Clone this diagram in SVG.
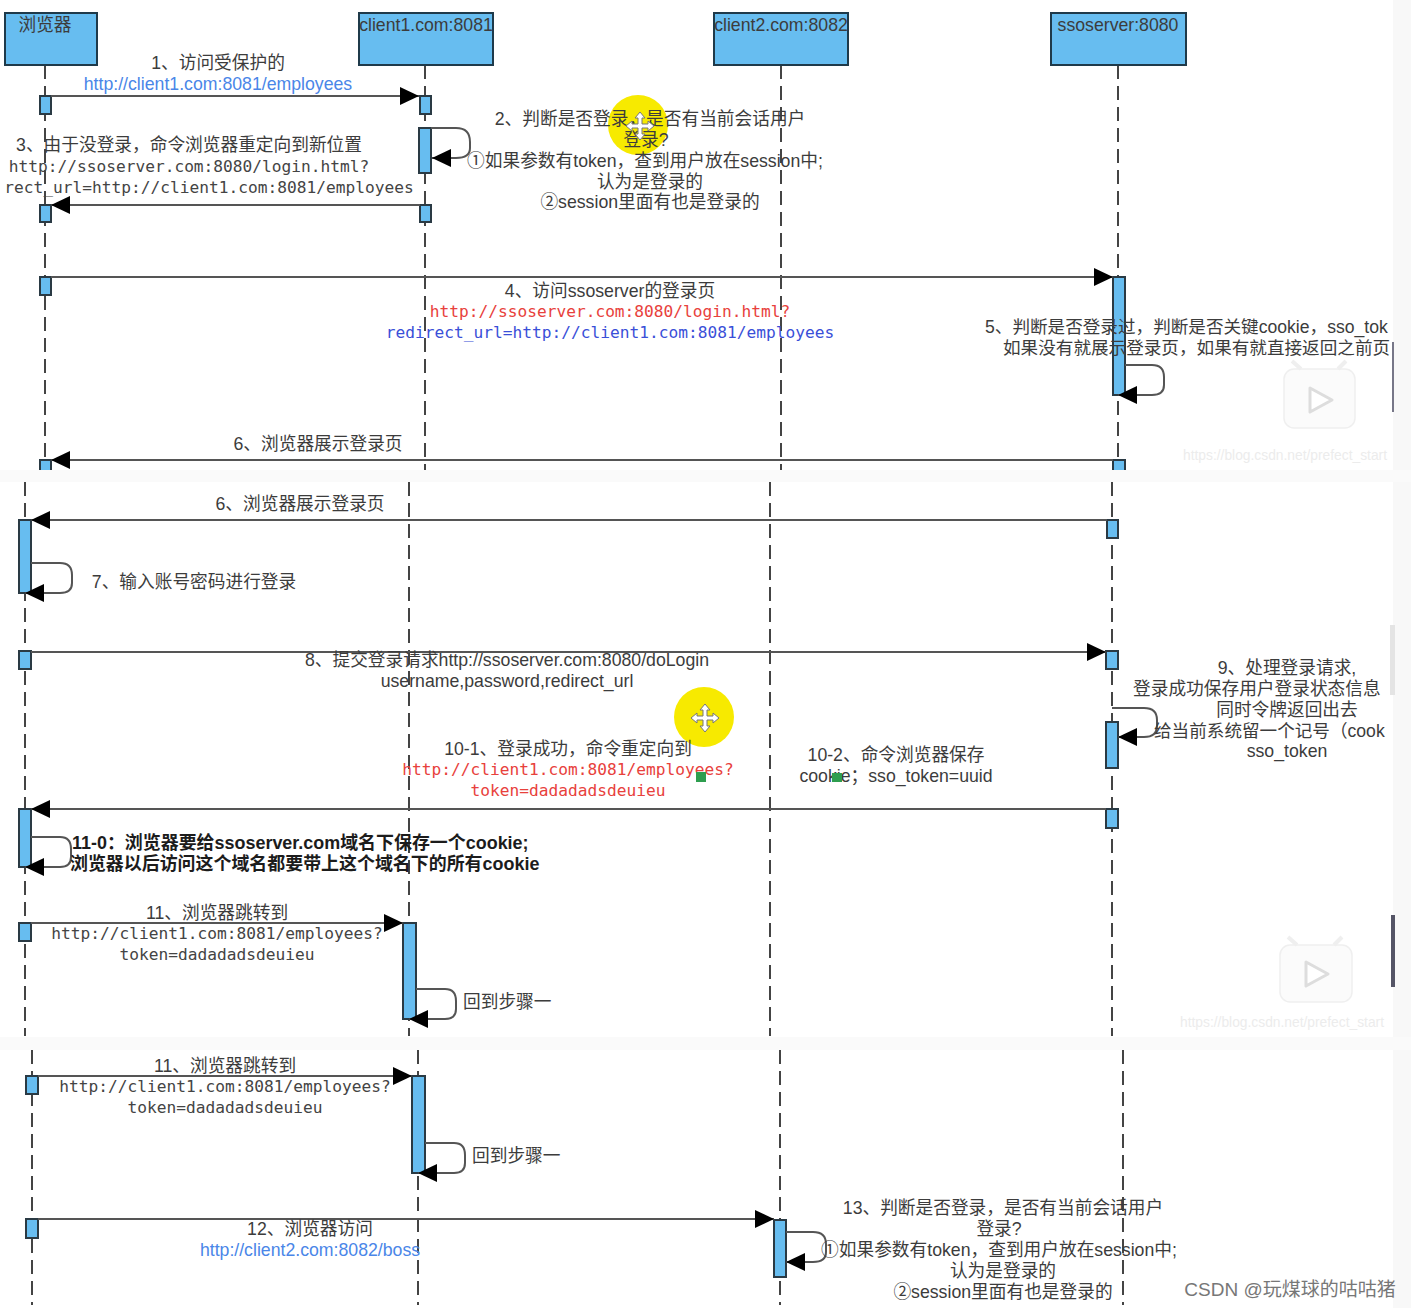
<svg xmlns="http://www.w3.org/2000/svg" width="1411" height="1308" viewBox="0 0 1411 1308">
<style>
text{font-family:"Liberation Sans","Noto Sans CJK SC",sans-serif;font-size:17.7px;fill:#3c3c3c;text-anchor:middle}
.m{font-family:"DejaVu Sans Mono","Liberation Mono","Noto Sans CJK SC",monospace;font-size:16.2px;fill:#444}
.l{fill:#4a86e8}
.r{fill:#e8413c}
.b{fill:#3a4fd8}
.k{font-weight:bold;font-size:17.95px;fill:#1c1c1c;text-anchor:start}
.s{text-anchor:start}
.n{font-size:17.6px}
.hd{fill:#67bdf0;stroke:#1f3a4a;stroke-width:2}
.ac{fill:#67bdf0;stroke:#2a3a44;stroke-width:2}
.ll{stroke:#444;stroke-width:2;stroke-dasharray:14 7;fill:none}
.msg{stroke:#555;stroke-width:2;fill:none;marker-end:url(#a)}
.wm{font-size:13.8px;fill:#ececec;text-anchor:start}
.cur{fill:#fff;stroke:#777;stroke-width:1}
</style>
<defs>
<marker id="a" markerUnits="userSpaceOnUse" markerWidth="20" markerHeight="20" refX="19" refY="10" orient="auto"><path d="M0,1 L19,10 L0,19 Z" fill="#000"/></marker>
<path id="mv" d="M0,-14 L5,-8 L2,-8 L2,-2 L8,-2 L8,-5 L14,0 L8,5 L8,2 L2,2 L2,8 L5,8 L0,14 L-5,8 L-2,8 L-2,2 L-8,2 L-8,5 L-14,0 L-8,-5 L-8,-2 L-2,-2 L-2,-8 L-5,-8 Z"/>
</defs>
<rect width="1411" height="1308" fill="#fff"/>
<rect x="1393" y="0" width="18" height="1308" fill="#f8f8f8"/>
<rect x="1392" y="342" width="2" height="70" fill="#778"/>
<rect x="1391" y="915" width="4" height="72" fill="#556"/>
<rect x="1390" y="625" width="5" height="70" fill="#e4e4e4"/>
<rect x="0" y="470" width="1411" height="12" fill="#fafafa"/>
<rect x="0" y="1037" width="1411" height="13" fill="#fafafa"/>

<g id="highlights">
<circle cx="638" cy="125" r="30" fill="#f7ea00"/>
<circle cx="704" cy="717" r="30" fill="#f7ea00"/>
</g>

<g id="lifelines">
<path class="ll" d="M45,65V470M425,65V470M781,65V470M1118,65V470"/>
<path class="ll" d="M25,482V1036M409,482V1036M770,482V1036M1112,482V1036"/>
<path class="ll" d="M32,1050V1305M418,1050V1305M780,1050V1305M1123,1050V1305"/>
</g>

<g id="browser"><rect class="hd" x="5" y="13" width="92" height="52"/><text x="45" y="31">浏览器</text></g>
<g id="client1"><rect class="hd" x="359" y="13" width="134" height="52"/><text x="426" y="31">client1.com:8081</text></g>
<g id="client2"><rect class="hd" x="714" y="13" width="134" height="52"/><text x="781" y="31">client2.com:8082</text></g>
<g id="ssoserver"><rect class="hd" x="1051" y="13" width="135" height="52"/><text x="1118" y="31">ssoserver:8080</text></g>

<g id="activations">
<rect class="ac" x="40" y="96" width="11" height="18"/>
<rect class="ac" x="420" y="96" width="11" height="18"/>
<rect class="ac" x="419" y="128" width="12" height="45"/>
<rect class="ac" x="40" y="205" width="11" height="17"/>
<rect class="ac" x="420" y="205" width="11" height="17"/>
<rect class="ac" x="40" y="277" width="11" height="18"/>
<rect class="ac" x="1113" y="277" width="12" height="118"/>
<path class="ac" d="M40,470V460H51V470M1113,470V460H1125V470"/>
<rect class="ac" x="1107" y="520" width="11" height="18"/>
<rect class="ac" x="19" y="520" width="12" height="73"/>
<rect class="ac" x="19" y="651" width="12" height="18"/>
<rect class="ac" x="1106" y="651" width="12" height="18"/>
<rect class="ac" x="1106" y="722" width="12" height="46"/>
<rect class="ac" x="1106" y="809" width="12" height="19"/>
<rect class="ac" x="19" y="809" width="12" height="58"/>
<rect class="ac" x="19" y="923" width="12" height="18"/>
<rect class="ac" x="403" y="923" width="13" height="96"/>
<rect class="ac" x="26" y="1076" width="12" height="18"/>
<rect class="ac" x="412" y="1076" width="13" height="97"/>
<rect class="ac" x="26" y="1219" width="12" height="19"/>
<rect class="ac" x="774" y="1220" width="12" height="57"/>
</g>

<g id="connectors">
<path class="msg" d="M51,96H419"/>
<path class="msg" d="M431,128H456Q470,128 470,142V148Q470,158 456,158H432"/>
<path class="msg" d="M420,205H51"/>
<path class="msg" d="M51,277H1113"/>
<path class="msg" d="M1125,365H1152Q1164,365 1164,377V385Q1164,395 1152,395H1118"/>
<path class="msg" d="M1113,460H51"/>
<path class="msg" d="M1107,520H31"/>
<path class="msg" d="M31,563H60Q72,563 72,575V583Q72,593 60,593H25"/>
<path class="msg" d="M31,652H1106"/>
<path class="msg" d="M1112,708H1144Q1157,708 1157,720V726Q1157,737 1144,737H1118"/>
<path class="msg" d="M1106,809H31"/>
<path class="msg" d="M31,837H60Q71,837 71,849V857Q71,867 60,867H25"/>
<path class="msg" d="M31,923H403"/>
<path class="msg" d="M416,989H445Q456,989 456,1001V1009Q456,1019 445,1019H409"/>
<path class="msg" d="M38,1076H412"/>
<path class="msg" d="M425,1143H454Q465,1143 465,1155V1163Q465,1173 454,1173H418"/>
<path class="msg" d="M38,1219H774"/>
<path class="msg" d="M786,1232H813Q826,1232 826,1244V1252Q826,1262 813,1262H786"/>
</g>

<g id="labels" transform="translate(0,1)">
<text x="218" y="68">1、访问受保护的</text>
<text class="l" x="218" y="89">http://client1.com:8081/employees</text>
<text x="650" y="124">2、判断是否登录，是否有当前会话用户</text>
<text x="646" y="145">登录?</text>
<text x="645" y="166">①如果参数有token，查到用户放在session中;</text>
<text x="650" y="187">认为是登录的</text>
<text x="650" y="207">②session里面有也是登录的</text>
<text x="189" y="150">3、由于没登录，命令浏览器重定向到新位置</text>
<text class="m" x="189" y="171">http://ssoserver.com:8080/login.html?</text>
<text class="m" x="209" y="192">rect_url=http://client1.com:8081/employees</text>
<text x="610" y="296">4、访问ssoserver的登录页</text>
<text class="m r" x="610" y="316">http://ssoserver.com:8080/login.html?</text>
<text class="m b" x="610" y="337">redirect_url=http://client1.com:8081/employees</text>
<text class="s n" x="985" y="332">5、判断是否登录过，判断是否关键cookie，sso_tok</text>
<text class="s n" x="1003" y="353">如果没有就展示登录页，如果有就直接返回之前页</text>
<text x="318" y="449">6、浏览器展示登录页</text>
<text x="300" y="509">6、浏览器展示登录页</text>
<text x="194" y="587">7、输入账号密码进行登录</text>
<text x="507" y="665">8、提交登录请求http://ssoserver.com:8080/doLogin</text>
<text x="507" y="686">username,password,redirect_url</text>
<text x="1287" y="673">9、处理登录请求,</text>
<text class="s" x="1133" y="694">登录成功保存用户登录状态信息</text>
<text x="1287" y="715">同时令牌返回出去</text>
<text class="s n" x="1154" y="736">给当前系统留一个记号（cook</text>
<text x="1287" y="756">sso_token</text>
<text x="568" y="754">10-1、登录成功，命令重定向到</text>
<text class="m r" x="568" y="774">http://client1.com:8081/employees?</text>
<text class="m r" x="568" y="795">token=dadadadsdeuieu</text>
<text x="896" y="760">10-2、命令浏览器保存</text>
<text x="896" y="781">cookie；sso_token=uuid</text>
<text class="k" x="72" y="848">11-0：浏览器要给ssoserver.com域名下保存一个cookie;</text>
<text class="k" x="70" y="869">浏览器以后访问这个域名都要带上这个域名下的所有cookie</text>
<text x="217" y="918">11、浏览器跳转到</text>
<text class="m" x="217" y="938">http://client1.com:8081/employees?</text>
<text class="m" x="217" y="959">token=dadadadsdeuieu</text>
<text class="s" x="463" y="1007">回到步骤一</text>
<text x="225" y="1071">11、浏览器跳转到</text>
<text class="m" x="225" y="1091">http://client1.com:8081/employees?</text>
<text class="m" x="225" y="1112">token=dadadadsdeuieu</text>
<text class="s" x="472" y="1161">回到步骤一</text>
<text x="310" y="1234">12、浏览器访问</text>
<text class="l" x="310" y="1255">http://client2.com:8082/boss</text>
<text x="1003" y="1213">13、判断是否登录，是否有当前会话用户</text>
<text x="999" y="1234">登录?</text>
<text x="999" y="1255">①如果参数有token，查到用户放在session中;</text>
<text x="1003" y="1276">认为是登录的</text>
<text x="1003" y="1297">②session里面有也是登录的</text>
</g>

<g id="overlays">
<use href="#mv" class="cur" x="640" y="126"/>
<use href="#mv" class="cur" x="705" y="718"/>
<rect x="696" y="772" width="10" height="10" fill="#2e9e4f"/>
<rect x="832" y="773" width="10" height="9" fill="#2e9e4f"/>
<g fill="#fbfbfb" stroke="#efefef" stroke-width="1.5">
<rect x="1284" y="369" width="71" height="59" rx="10"/>
<path d="M1301,369L1292,361M1338,369L1346,361" fill="none" stroke-width="4"/>
<path d="M1310,388L1332,400L1310,412Z" fill="#fff" stroke="#ddd" stroke-width="3" stroke-linejoin="round"/>
<rect x="1280" y="945" width="72" height="57" rx="10"/>
<path d="M1297,945L1288,937M1334,945L1342,937" fill="none" stroke-width="4"/>
<path d="M1306,962L1328,974L1306,986Z" fill="#fff" stroke="#ddd" stroke-width="3" stroke-linejoin="round"/>
</g>
<text class="wm" x="1183" y="460">https://blog.csdn.net/prefect_start</text>
<text class="wm" x="1180" y="1027">https://blog.csdn.net/prefect_start</text>
<text x="1290" y="1296" style="font-size:19px;fill:#777">CSDN @玩煤球的咕咕猪</text>
</g>
</svg>
